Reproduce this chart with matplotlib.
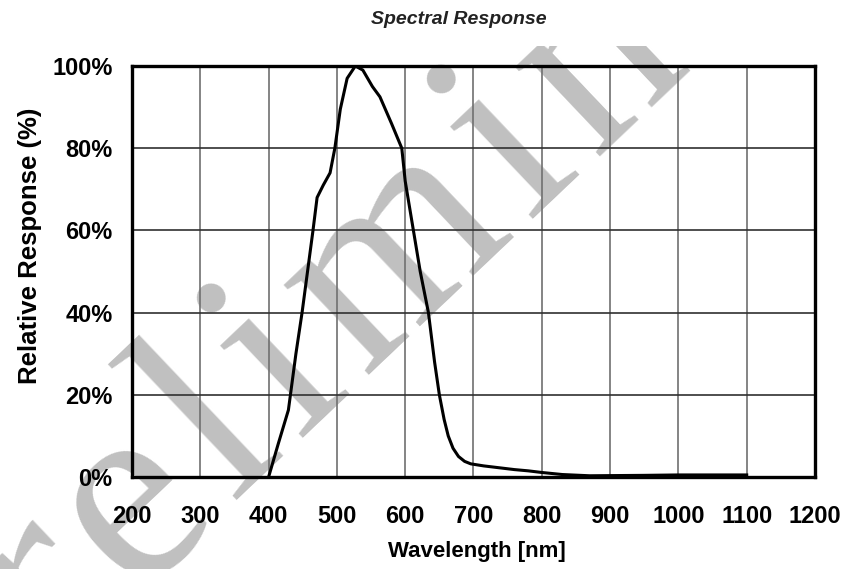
import numpy as np
import matplotlib
matplotlib.use("Agg")
from matplotlib import pyplot as plt
from matplotlib.font_manager import FontProperties, findfont, get_font
from matplotlib.transforms import Bbox, TransformedBbox, IdentityTransform

# spectral response curve
wavelength = [400, 414, 429, 440, 449, 457, 465, 471, 480, 490, 497, 505, 515, 527, 538,
              552, 563, 580, 595, 600, 612, 622, 634, 643, 650, 657, 663, 670, 678, 687,
              696, 715, 740, 760, 780, 800, 830, 870, 950, 1000, 1050, 1100]
response = [0, 8, 16.3, 30, 40, 50, 60, 68, 71, 74, 80, 89.5, 97, 100, 99,
            95, 92.5, 86, 80, 72, 60, 50, 40, 28, 20, 14, 10, 7, 5, 3.8,
            3.2, 2.7, 2.2, 1.8, 1.5, 1.1, 0.6, 0.3, 0.4, 0.5, 0.5, 0.5]

x_ticks = list(range(200, 1201, 100))
y_ticks = [0, 20, 40, 60, 80, 100]
y_labels = ["0%", "20%", "40%", "60%", "80%", "100%"]

sans = ["Liberation Sans Narrow", "Liberation Sans", "DejaVu Sans"]

fig = plt.figure(figsize=(8.45, 5.69), dpi=100)
ax = fig.add_axes([132 / 845, 1 - 477 / 569, (815 - 132) / 845, (477 - 66) / 569])

ax.set_axisbelow(True)
ax.plot(wavelength, response, color="black", lw=2.2, zorder=3)

ax.set_xlim(200, 1200)
ax.set_ylim(0, 100)
ax.set_xticks(x_ticks)
ax.set_yticks(y_ticks)
ax.set_yticklabels(y_labels)
ax.xaxis.grid(True, color="#707070", lw=1.2)
ax.yaxis.grid(True, color="#303030", lw=1.2)
ax.tick_params(axis="both", length=0, labelsize=17)
ax.tick_params(axis="x", pad=20)
ax.tick_params(axis="y", pad=14)
for lab in ax.get_xticklabels() + ax.get_yticklabels():
    lab.set_family(sans)
    lab.set_fontweight("bold")

for s in ax.spines.values():
    s.set_linewidth(2.4)
    s.set_color("black")

fig.text(30 / 845, 1 - 246 / 569, "Relative Response (%)", rotation=90, ha="center", va="center",
         fontsize=18.5, fontweight="bold", family=sans)
fig.text(477 / 845, 1 - 551 / 569, "Wavelength [nm]", ha="center", va="center",
         fontsize=16, fontweight="bold", family=sans)
fig.text(459 / 845, 1 - 20 / 569, "Spectral Response", ha="center", va="center",
         fontsize=14, fontstyle="italic", fontweight="bold", family=sans, color="#222222")

# grey watermark "Preliminary", spaced-out letters, under grid, curve and labels
wm_size = 194.4
wm_angle = 43.5
wm_track = 0.06 * wm_size / 0.72          # extra space between letters, px
wm_prop = FontProperties(family="Liberation Serif", size=wm_size)
ft = get_font(findfont(wm_prop))
ft.set_size(wm_size, fig.dpi)
clip = TransformedBbox(Bbox([[0, 0], [1, 1 - 46 / 569]]), fig.transFigure)
direction = np.array([np.cos(np.radians(wm_angle)), np.sin(np.radians(wm_angle))])
pos = np.array([-65.0, 569 - 781.5])       # baseline start, pixels from lower left
for ch in "Preliminary":
    t = ax.text(pos[0], pos[1], ch, transform=IdentityTransform(), rotation=wm_angle,
                rotation_mode="anchor", ha="left", va="baseline", fontproperties=wm_prop,
                color="#c0c0c0", zorder=0.1)
    t.set_clip_box(clip)
    t.set_clip_on(True)
    adv = ft.load_char(ord(ch)).linearHoriAdvance / 65536
    pos = pos + direction * (adv + wm_track)

fig.savefig("out.png", dpi=100)
